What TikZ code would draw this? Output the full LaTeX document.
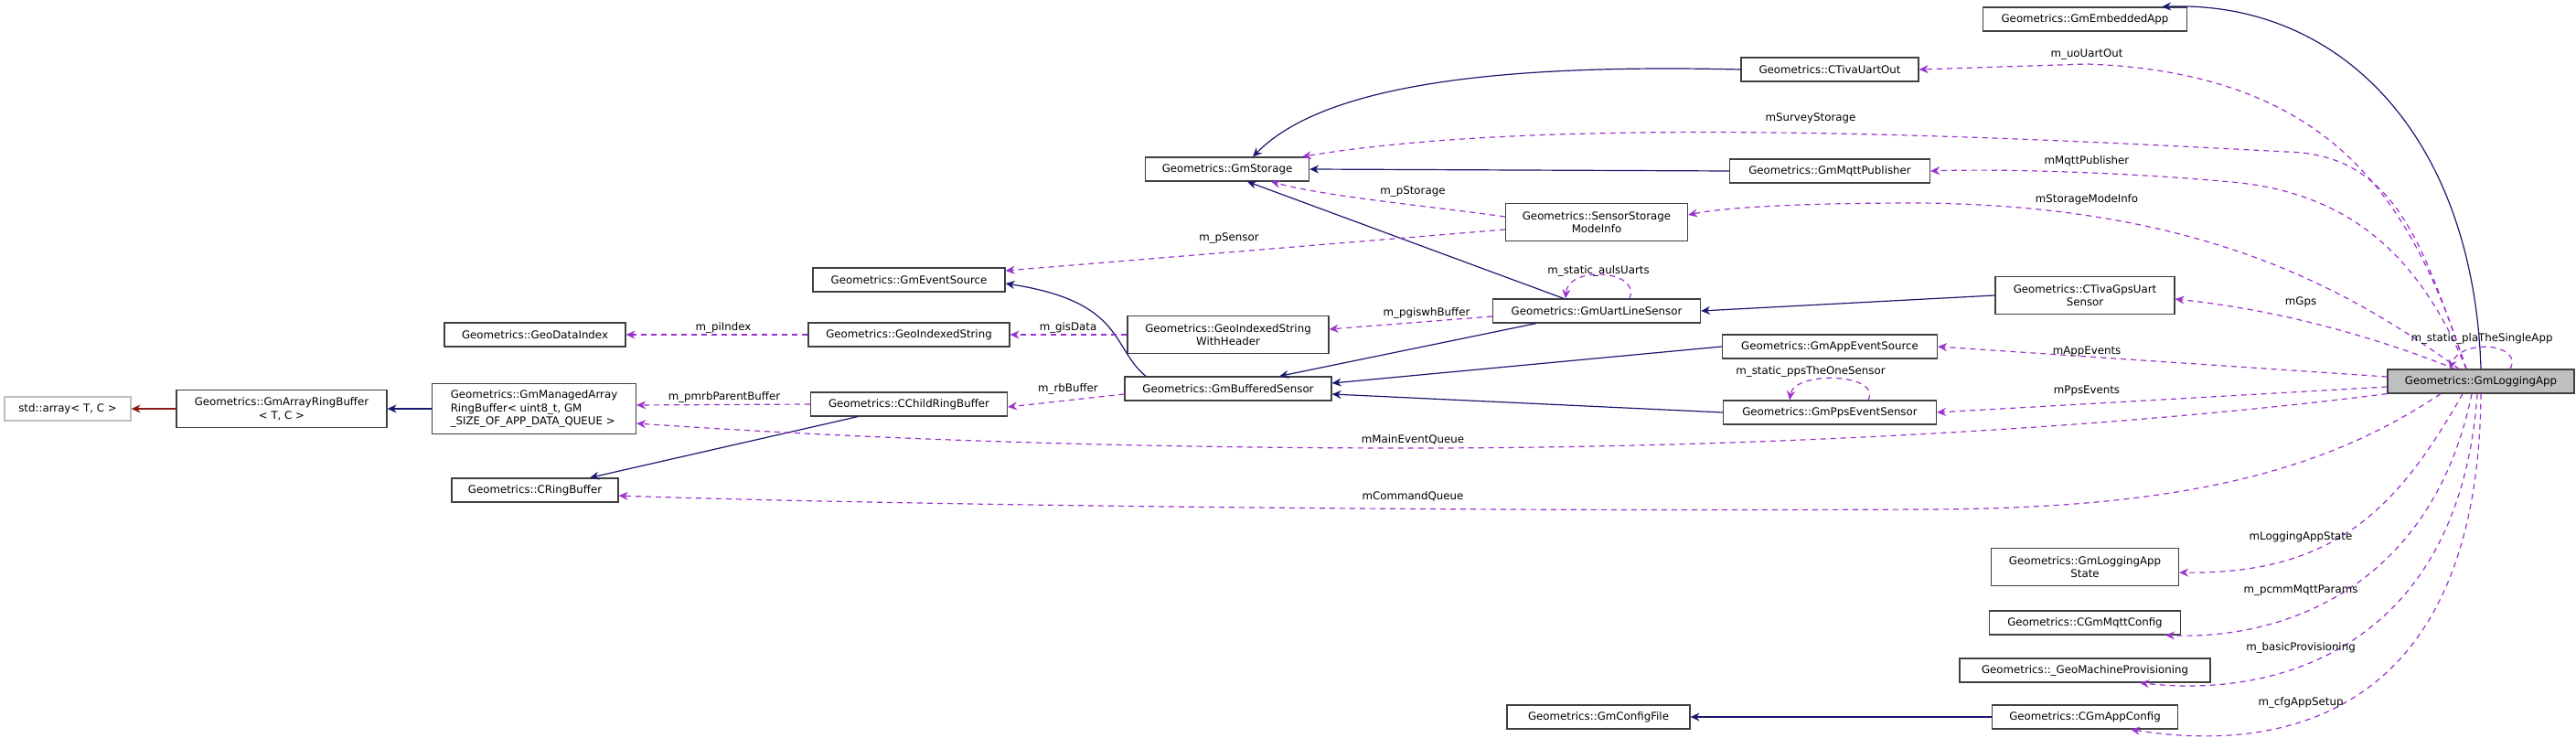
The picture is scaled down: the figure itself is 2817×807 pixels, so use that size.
\documentclass[tikz,border=0pt]{standalone}
\usepackage{fontspec}
\setmainfont{DejaVu Sans}
\usetikzlibrary{arrows.meta}
\definecolor{inh}{HTML}{191970}
\definecolor{usg}{HTML}{9A32CD}
\definecolor{tpl}{HTML}{8B1A1A}
\begin{document}
\begin{tikzpicture}[x=0.5pt,y=-0.5pt,
  box/.style={draw=black!75,line width=0.6pt,fill=white,inner sep=0pt,align=center,font=\fontsize{5.9}{7.3}\selectfont},
  lbl/.style={font=\fontsize{5.9}{7}\selectfont,inner sep=0.5pt},
  inh/.style={draw=inh,line width=0.6pt,-{Stealth[length=5pt,width=4.5pt]}},
  tpl/.style={draw=tpl,line width=0.6pt,-{Stealth[length=5pt,width=4.5pt]}},
  use/.style={draw=usg,line width=0.6pt,dashed,dash pattern=on 3pt off 2.5pt,-{Stealth[length=5pt,width=4.5pt]}}]
\useasboundingbox (0,0) rectangle (2817,807);
\newcommand\bx[6]{\node[box,minimum width=#4*0.5pt,minimum height=#5*0.5pt] (#1) at (#2,#3) {#6};}
\bx{array}{74}{447}{138}{26}{std::array< T, C >}
\node[box,draw=black!25,minimum width=69pt,minimum height=13pt] at (74,447) {std::array< T, C >};
\bx{arb}{308}{447}{230}{41}{Geometrics::GmArrayRingBuffer\\< T, C >}
\node[box,align=left,minimum width=111.5pt,minimum height=27.5pt] (marb) at (584,447) {Geometrics::GmManagedArray\\RingBuffer< uint8\_t, GM\\\_SIZE\_OF\_APP\_DATA\_QUEUE >};
\bx{gdi}{585}{366}{198}{26}{Geometrics::GeoDataIndex}
\bx{crb}{585}{536}{182}{26}{Geometrics::CRingBuffer}
\bx{gis}{994}{366}{220}{26}{Geometrics::GeoIndexedString}
\bx{ccrb}{994}{442}{215}{26}{Geometrics::CChildRingBuffer}
\bx{ges}{994}{306}{210}{26}{Geometrics::GmEventSource}
\bx{gsh}{1343}{366}{220}{41}{Geometrics::GeoIndexedString\\WithHeader}
\bx{stor}{1342}{185}{179}{26}{Geometrics::GmStorage}
\bx{gbs}{1343}{425}{226}{26}{Geometrics::GmBufferedSensor}
\bx{gul}{1746}{340}{227}{26}{Geometrics::GmUartLineSensor}
\bx{ssm}{1746}{243}{199}{41}{Geometrics::SensorStorage\\ModeInfo}
\bx{tuo}{2001}{76}{194}{26}{Geometrics::CTivaUartOut}
\bx{mqp}{2001}{187}{219}{26}{Geometrics::GmMqttPublisher}
\bx{aes}{2001}{379}{235}{26}{Geometrics::GmAppEventSource}
\bx{pps}{2001}{451}{233}{26}{Geometrics::GmPpsEventSensor}
\bx{gea}{2280}{21}{223}{26}{Geometrics::GmEmbeddedApp}
\bx{gps}{2280}{323}{196}{41}{Geometrics::CTivaGpsUart\\Sensor}
\node[box,fill=black!25,minimum width=102pt,minimum height=13pt] (app) at (2713,417) {Geometrics::GmLoggingApp};
\bx{las}{2280}{620}{205}{41}{Geometrics::GmLoggingApp\\State}
\bx{mqc}{2280}{681}{209}{26}{Geometrics::CGmMqttConfig}
\bx{gmp}{2280}{733}{274}{26}{Geometrics::\_GeoMachineProvisioning}
\bx{acf}{2280}{784}{203}{26}{Geometrics::CGmAppConfig}
\bx{gcf}{1748}{784}{200}{26}{Geometrics::GmConfigFile}
% inheritance
\draw[inh] (app.north) .. controls (2705,150) and (2560,0) .. ([xshift=-14pt]gea.north east);
\draw[inh] (tuo.west) .. controls (1650,70) and (1450,90) .. ([xshift=14pt]stor.north);
\draw[inh] (mqp.west) -- (stor.east);
\draw[inh] ([xshift=-18pt]gul.north) -- ([xshift=11pt]stor.south);
\draw[inh] (gps.west) -- (gul.east);
\draw[inh] ([xshift=-33pt]gul.south) -- ([xshift=28pt]gbs.north);
\draw[inh] (aes.west) -- ([yshift=3pt]gbs.east);
\draw[inh] (pps.west) -- ([yshift=-3pt]gbs.east);
\draw[inh] ([xshift=-45pt]gbs.north) .. controls (1215,380) and (1230,330) .. ([yshift=-2pt]ges.east);
\draw[inh] ([xshift=-28pt]ccrb.south) -- ([xshift=30pt]crb.north);
\draw[inh] (marb.west) -- (arb.east);
\draw[inh] (acf.west) -- (gcf.east);
\draw[tpl] (arb.west) -- (array.east);
% usage
\draw[use] ([xshift=-8pt]app.north) .. controls (2640,230) and (2560,80) .. (2282,70) -- (tuo.east);
\node[lbl] (l1) at (2282,60) {m\_uoUartOut};
\draw[use] ([xshift=-8pt]app.north) .. controls (2650,270) and (2620,168) .. (2500,166) .. controls (2200,150) and (1700,125) .. ([xshift=41pt]stor.north);
\node[lbl] (l2) at (1980,129) {mSurveyStorage};
\draw[use] ([xshift=-8pt]app.north) .. controls (2650,290) and (2580,215) .. (2450,200) .. controls (2350,190) and (2200,184) .. (mqp.east);
\node[lbl] (l3) at (2282,176) {mMqttPublisher};
\draw[use] ([xshift=-12pt]app.north) .. controls (2560,310) and (2400,225) .. (2100,222) .. controls (1950,222) and (1880,228) .. ([yshift=4pt]ssm.east);
\node[lbl] (l4) at (2282,218) {mStorageModeInfo};
\draw[use] ([xshift=-14pt]app.north) .. controls (2600,370) and (2500,340) .. ([yshift=-2pt]gps.east);
\node[lbl] (l5) at (2516,330) {mGps};
\draw[use] ([xshift=16pt]app.north) .. controls (2760,375) and (2690,370) .. ([xshift=-17pt]app.north);
\node[lbl] (l6) at (2714,370) {m\_static\_plaTheSingleApp};
\draw[use] ([yshift=2.5pt]app.west) -- (aes.east);
\node[lbl] (l7) at (2282,384) {mAppEvents};
\draw[use] ([yshift=-3pt]app.west) -- (pps.east);
\node[lbl] (l8) at (2282,427) {mPpsEvents};
\draw[use] (app.south west) .. controls (2300,470) and (1900,490) .. (1545,490) .. controls (1100,490) and (800,470) .. ([yshift=-8pt]marb.east);
\node[lbl] (l9) at (1545,481) {mMainEventQueue};
\draw[use] ([xshift=-22pt]app.south) .. controls (2550,510) and (2400,557) .. (2100,557) .. controls (1500,560) and (900,550) .. ([yshift=-3pt]crb.east);
\node[lbl] (l10) at (1545,543) {mCommandQueue};
\draw[use] ([xshift=-10pt]app.south) .. controls (2620,560) and (2550,628) .. ([yshift=-3pt]las.east);
\node[lbl] (l11) at (2516,587) {mLoggingAppState};
\draw[use] ([xshift=-5pt]app.south) .. controls (2660,640) and (2500,700) .. ([xshift=44pt]mqc.south);
\node[lbl] (l12) at (2516,646) {m\_pcmmMqttParams};
\draw[use] ([xshift=-2pt]app.south) .. controls (2690,700) and (2500,765) .. ([xshift=30pt]gmp.south);
\node[lbl] (l13) at (2516,708) {m\_basicProvisioning};
\draw[use] (app.south) .. controls (2710,780) and (2500,825) .. ([xshift=25pt]acf.south);
\node[lbl] (l14) at (2516,768) {m\_cfgAppSetup};
\draw[use] ([yshift=3pt]ssm.west) .. controls (1560,225) and (1450,215) .. ([xshift=24pt]stor.south);
\node[lbl] (l15) at (1545,210) {m\_pStorage};
\draw[use] ([yshift=-4pt]ssm.west) -- ([yshift=5pt]ges.east);
\node[lbl] (l16) at (1344,261) {m\_pSensor};
\draw[use] ([xshift=18pt]gul.north) .. controls (1795,295) and (1715,290) .. ([xshift=-17pt]gul.north);
\node[lbl] (l17) at (1748,296) {m\_static\_aulsUarts};
\draw[use] ([yshift=-3pt]gul.west) -- ([yshift=3pt]gsh.east);
\node[lbl] (l18) at (1560,342) {m\_pgiswhBuffer};
\draw[use] (gsh.west) -- (gis.east);
\node[lbl] (l19) at (1168,358) {m\_gisData};
\draw[use] (gis.west) -- (gdi.east);
\node[lbl] (l20) at (791,358) {m\_piIndex};
\draw[use] ([yshift=-3pt]gbs.west) -- ([yshift=-1.5pt]ccrb.east);
\node[lbl] (l21) at (1168,425) {m\_rbBuffer};
\draw[use] (ccrb.west) -- ([yshift=2pt]marb.east);
\node[lbl] (l22) at (792,434) {m\_pmrbParentBuffer};
\draw[use] ([xshift=21pt]pps.north) .. controls (2058,408) and (1962,405) .. ([xshift=-22pt]pps.north);
\node[lbl] (l23) at (1980,406) {m\_static\_ppsTheOneSensor};
\end{tikzpicture}
\end{document}
